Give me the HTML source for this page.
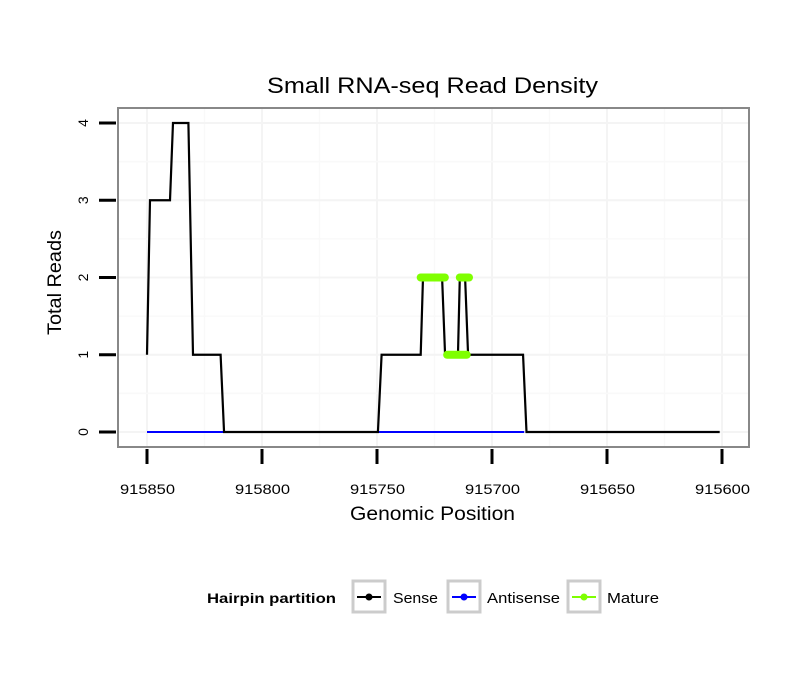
<!DOCTYPE html>
<html><head><meta charset="utf-8"><style>
body{margin:0;background:#fff;font-family:"Liberation Sans",sans-serif}
svg text{font-family:"Liberation Sans",sans-serif}
</style></head><body>
<svg id="c" width="810" height="690" xmlns="http://www.w3.org/2000/svg">
<rect width="810" height="690" fill="#fff"/>
<text x="267" y="93" font-size="22" textLength="331" lengthAdjust="spacingAndGlyphs">Small RNA-seq Read Density</text>
<g id="grid"></g>
<g id="marks"></g>
<rect x="118" y="108" width="631" height="339" fill="none" stroke="#888" stroke-width="2"/>
<g id="axes"></g>
<text x="350" y="520" font-size="19" textLength="165" lengthAdjust="spacingAndGlyphs">Genomic Position</text>
<text transform="translate(61,335) rotate(-90)" font-size="19" textLength="105" lengthAdjust="spacingAndGlyphs">Total Reads</text>
<g>
<text x="207" y="603" font-size="14" font-weight="bold" textLength="129" lengthAdjust="spacingAndGlyphs">Hairpin partition</text>
<g>
<rect x="353" y="581" width="32" height="31" fill="#fff" stroke="#ccc" stroke-width="3"/>
<line x1="357" y1="597" x2="381" y2="597" stroke="#000" stroke-width="2"/><circle cx="369" cy="597" r="3.5" fill="#000"/>
<text x="393" y="603" font-size="15" textLength="45" lengthAdjust="spacingAndGlyphs">Sense</text></g>
<g>
<rect x="448" y="581" width="32" height="31" fill="#fff" stroke="#ccc" stroke-width="3"/>
<line x1="452" y1="597" x2="476" y2="597" stroke="#00f" stroke-width="2"/><circle cx="464" cy="597" r="3.5" fill="#00f"/>
<text x="487" y="603" font-size="15" textLength="73" lengthAdjust="spacingAndGlyphs">Antisense</text></g>
<g>
<rect x="568" y="581" width="32" height="31" fill="#fff" stroke="#ccc" stroke-width="3"/>
<line x1="572" y1="597" x2="596" y2="597" stroke="#7fff00" stroke-width="2"/><circle cx="584" cy="597" r="3.5" fill="#7fff00"/>
<text x="607" y="603" font-size="15" textLength="52" lengthAdjust="spacingAndGlyphs">Mature</text></g>
</g>
</svg>
<script>
const xTicks=[915850,915800,915750,915700,915650,915600];
const yTicks=[0,1,2,3,4];
const sensePos=[915850,915848.7,915840,915838.7,915832,915830,915818,915816.5,915749.6,915748,915731,915730,915721.7,915720.4,915714.8,915714,915711.7,915710.4,915686.5,915685,915601];
const senseVal=[1,3,3,4,4,1,1,0,0,1,1,2,2,1,1,2,2,1,1,0,0];
const antisensePos=[915850,915686];
const antisenseVal=[0,0];
const matureStart=[915731,915719.5,915714];
const matureEnd=[915720.5,915711,915710];
const matureVal=[2,1,2];
const X=v=>147+(915850-v)*2.3;
const Y=v=>432-v*77.25;
const NS="http://www.w3.org/2000/svg";
function mk(tag,attrs,parent){const e=document.createElementNS(NS,tag);for(const k in attrs)e.setAttribute(k,attrs[k]);document.getElementById(parent).appendChild(e);return e;}
for(let v=915875;v>=915575;v-=25){const x=X(v);if(x<119||x>748)continue;
const g=mk('line',{x1:x,x2:x,y1:109,y2:446,stroke:(v%50===0)?'#f4f4f4':'#f9f9f9','stroke-width':(v%50===0)?2:1.5},'grid');

}
for(let v=-0.5;v<=4.5;v+=0.5){const y=Y(v);if(y<109||y>446)continue;
const g=mk('line',{x1:119,x2:748,y1:y,y2:y,stroke:(v%1===0)?'#f4f4f4':'#f9f9f9','stroke-width':(v%1===0)?2:1.5},'grid');

}
xTicks.forEach(v=>{const x=X(v);
const t=mk('line',{x1:x,x2:x,y1:449,y2:464,stroke:'#000','stroke-width':3},'axes');


const l=mk('text',{x:x-27,y:494,'font-size':14,textLength:55,lengthAdjust:'spacingAndGlyphs'},'axes');l.textContent=v;

});
yTicks.forEach(v=>{const y=Y(v);
const t=mk('line',{x1:99,x2:116,y1:y,y2:y,stroke:'#000','stroke-width':3},'axes');


const l=mk('text',{x:0,y:0,'font-size':14,'text-anchor':'middle',transform:`translate(88,${y}) rotate(-90)`},'axes');l.textContent=v;

});
const a=mk('polyline',{points:antisensePos.map((p,i)=>X(p)+','+Y(antisenseVal[i])).join(' '),fill:'none',stroke:'#00f','stroke-width':2},'marks');


const s=mk('polyline',{points:sensePos.map((p,i)=>X(p)+','+Y(senseVal[i])).join(' '),fill:'none',stroke:'#000','stroke-width':2.2},'marks');


matureVal.forEach((v,i)=>{
const m=mk('line',{x1:X(matureStart[i]),x2:X(matureEnd[i]),y1:Y(v),y2:Y(v),stroke:'#7fff00','stroke-width':8,'stroke-linecap':'round'},'marks');

});
</script>
</body></html>
